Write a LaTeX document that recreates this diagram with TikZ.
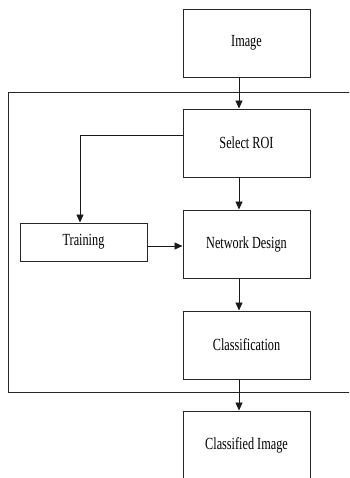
\documentclass[tikz,border=0pt]{standalone}
\usepackage{fontspec}
\usepackage{graphicx}
\setmainfont{Liberation Serif}
\usetikzlibrary{arrows.meta}
\newcommand{\boxlabel}[1]{\scalebox{0.72}[1]{\fontsize{17}{19}\selectfont #1}}
\tikzset{
  stagebox/.style={draw=black!85, line width=0.95pt, minimum width=127pt, minimum height=68pt,
    inner sep=0pt},
  flow/.style={draw=black!90, line width=0.8pt, -{Triangle[width=7pt,length=8pt]}},
}
\begin{document}
\begin{tikzpicture}[x=1pt,y=-1pt]
  \useasboundingbox (0,0) rectangle (349,478);
  \clip (0,0) rectangle (349,478);
  \fill[white] (0,0) rectangle (349,478);
  % enclosing frame of the processing stages
  \draw[draw=black!85, line width=0.95pt] (8,92) rectangle (362,392);
  % stages
  \node[stagebox] (img)   at (246.5,43)  {\boxlabel{Image}};
  \node[stagebox] (roi)   at (246.5,143) {\boxlabel{Select ROI}};
  \node[stagebox] (net)   at (246.5,244) {\boxlabel{Network Design}};
  \node[stagebox] (cls)   at (246.5,345) {\boxlabel{Classification}};
  \node[stagebox] (out)   at (246.5,445) {\boxlabel{Classified Image}};
  \node[stagebox, minimum height=38pt] (train) at (83.5,242) {\boxlabel{Training}};
  % vertical flow, slightly left of the box centres
  \draw[flow] ([xshift=-7.5pt]img.south) -- ([xshift=-7.5pt]roi.north);
  \draw[flow] ([xshift=-7.5pt]roi.south) -- ([xshift=-7.5pt]net.north);
  \draw[flow] ([xshift=-7.5pt]net.south) -- ([xshift=-7.5pt]cls.north);
  \draw[flow] ([xshift=-7.5pt]cls.south) -- ([xshift=-7.5pt]out.north);
  % branch to training and back into the network design
  \draw[flow] ([yshift=8pt]roi.west) -| ([xshift=-3.5pt]train.north);
  \draw[flow] ([yshift=-4pt]train.east) -- ([yshift=-4pt]train.east -| net.west);
\end{tikzpicture}
\end{document}
